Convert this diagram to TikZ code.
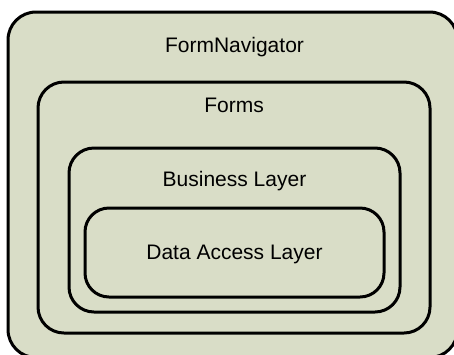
\documentclass[tikz,border=0pt]{standalone}
\usepackage{fontspec}
\setmainfont{Liberation Sans}
\definecolor{layerfill}{RGB}{217,221,199}
\begin{document}
\begin{tikzpicture}[x=1pt,y=-1pt,
  layer/.style={draw=black, line width=3pt, fill=layerfill, rounded corners=#1,
    inner sep=0pt, outer sep=0pt},
  layer/.default=26pt,
  lbl/.style={anchor=base, inner sep=0pt, font=\fontsize{21}{24}\selectfont}]
  \path[use as bounding box, clip] (0,0) rectangle (454,354);
  \fill[white] (0,0) rectangle (454,354);
  % nested layers, outermost first
  \node[layer=28pt, minimum width=449.5pt, minimum height=345.5pt] (nav) at (232.75,184.75) {};
  \node[layer, minimum width=392pt, minimum height=251pt] (forms) at (234,207.5) {};
  \node[layer=25pt, minimum width=331pt, minimum height=164pt] (biz) at (234.5,230) {};
  \node[layer=24pt, minimum width=299pt, minimum height=89pt] (data) at (234.5,252.5) {};
  % layer names
  \node[lbl] (navlbl) at (234.5,52) {FormNavigator};
  \node[lbl] (formslbl) at (234,112.7) {Forms};
  \node[lbl] (bizlbl) at (234.5,186) {Business Layer};
  \node[lbl] (datalbl) at (234.5,259) {Data Access Layer};
\end{tikzpicture}
\end{document}
